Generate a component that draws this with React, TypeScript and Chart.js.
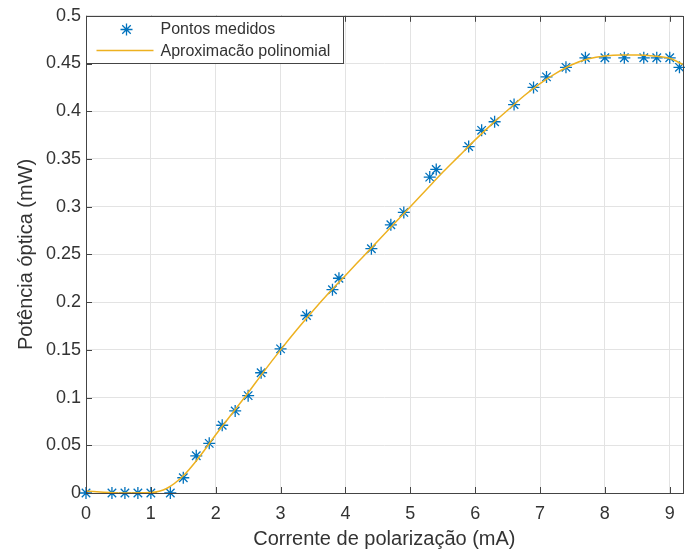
import React, { useEffect, useRef } from "react";
import { Chart, registerables } from "chart.js";

Chart.register(...registerables);

const measuredX = [0, 0.4, 0.6, 0.8, 1.0, 1.3, 1.5, 1.7, 1.9, 2.1, 2.3, 2.5, 2.7, 3.0, 3.4, 3.8, 3.9, 4.4, 4.7, 4.9, 5.3, 5.4, 5.9, 6.1, 6.3, 6.6, 6.9, 7.1, 7.4, 7.7, 8.0, 8.3, 8.6, 8.8, 9.0, 9.15];
const measuredY = [0, 0, 0, 0, 0, 0, 0.016, 0.039, 0.052, 0.071, 0.086, 0.102, 0.126, 0.151, 0.186, 0.213, 0.225, 0.256, 0.281, 0.294, 0.331, 0.339, 0.363, 0.380, 0.389, 0.407, 0.425, 0.436, 0.446, 0.456, 0.456, 0.456, 0.456, 0.456, 0.456, 0.446];

const fitX = [0, 0.5, 1.0, 1.25, 1.5, 1.75, 2.0, 2.25, 2.5, 2.75, 3.0, 3.25, 3.5, 3.75, 4.0, 4.25, 4.5, 4.75, 5.0, 5.25, 5.5, 5.75, 6.0, 6.25, 6.5, 6.75, 7.0, 7.25, 7.5, 7.75, 8.0, 8.25, 8.5, 8.75, 9.0, 9.2];
const fitY = [0.002, 0.0, 0.0005, 0.005, 0.018, 0.038, 0.061, 0.083, 0.105, 0.128, 0.150, 0.171, 0.191, 0.210, 0.228, 0.246, 0.264, 0.282, 0.300, 0.318, 0.336, 0.353, 0.370, 0.386, 0.401, 0.416, 0.429, 0.440, 0.449, 0.455, 0.458, 0.459, 0.459, 0.458, 0.4555, 0.449];

const xTicks = [0, 1, 2, 3, 4, 5, 6, 7, 8, 9];
const yTicks = [0, 0.05, 0.1, 0.15, 0.2, 0.25, 0.3, 0.35, 0.4, 0.45, 0.5];

const legendLabels = ["Pontos medidos", "Aproximacão polinomial"];
const xTitle = "Corrente de polarização (mA)";
const yTitle = "Potência óptica (mW)";

const BLUE = "#0072BD";
const GOLD = "#EDB120";
const AXIS = "#444444";
const TEXT = "#333333";
const FONT = "'Liberation Sans', Arial, Helvetica, sans-serif";

function drawStar(ctx: CanvasRenderingContext2D, x: number, y: number, r: number) {
  ctx.beginPath();
  for (let i = 0; i < 4; i++) {
    const a = (i * Math.PI) / 4;
    ctx.moveTo(x + Math.cos(a) * r, y + Math.sin(a) * r);
    ctx.lineTo(x - Math.cos(a) * r, y - Math.sin(a) * r);
  }
  ctx.stroke();
}

const decorPlugin = {
  id: "matlabDecor",
  afterDraw(chart: any) {
    const { ctx, chartArea, scales } = chart;
    const { left, top, right, bottom } = chartArea;
    ctx.save();
    ctx.strokeStyle = AXIS;
    ctx.lineWidth = 1;
    ctx.beginPath();
    xTicks.forEach((v) => {
      const px = Math.round(scales.x.getPixelForValue(v)) + 0.5;
      ctx.moveTo(px, bottom);
      ctx.lineTo(px, bottom - 6);
      ctx.moveTo(px, top);
      ctx.lineTo(px, top + 6);
    });
    yTicks.forEach((v) => {
      const py = Math.round(scales.y.getPixelForValue(v)) + 0.5;
      ctx.moveTo(left, py);
      ctx.lineTo(left + 6, py);
    });
    ctx.stroke();
    ctx.strokeRect(Math.round(left) + 0.5, Math.round(top) + 0.5, Math.round(right - left), Math.round(bottom - top));

    const lx = Math.round(left) + 0.5;
    const ly = Math.round(top) + 0.5;
    const lw = 257;
    const lh = 47;
    ctx.fillStyle = "#ffffff";
    ctx.fillRect(lx, ly, lw, lh);
    ctx.strokeStyle = AXIS;
    ctx.strokeRect(lx, ly, lw, lh);

    ctx.strokeStyle = BLUE;
    ctx.lineWidth = 1.3;
    drawStar(ctx, lx + 40, ly + 13, 6);

    ctx.strokeStyle = GOLD;
    ctx.lineWidth = 1.5;
    ctx.beginPath();
    ctx.moveTo(lx + 10, ly + 34);
    ctx.lineTo(lx + 67, ly + 34);
    ctx.stroke();

    ctx.fillStyle = TEXT;
    ctx.font = `16px ${FONT}`;
    ctx.textBaseline = "middle";
    ctx.textAlign = "left";
    ctx.fillText(legendLabels[0], lx + 74, ly + 13);
    ctx.fillText(legendLabels[1], lx + 74, ly + 35);
    ctx.restore();
  },
};

export default function App() {
  const ref = useRef<HTMLCanvasElement | null>(null);

  useEffect(() => {
    const canvas = ref.current;
    if (!canvas) return;
    const chart = new Chart(canvas, {
      type: "scatter",
      data: {
        datasets: [
          {
            label: legendLabels[0],
            data: measuredX.map((x, i) => ({ x, y: measuredY[i] })),
            pointStyle: "star",
            pointRadius: 6,
            pointBorderColor: BLUE,
            pointBackgroundColor: BLUE,
            pointBorderWidth: 1.3,
            showLine: false,
            clip: false,
            order: 1,
          } as any,
          {
            label: legendLabels[1],
            data: fitX.map((x, i) => ({ x, y: fitY[i] })),
            showLine: true,
            borderColor: GOLD,
            borderWidth: 1.5,
            pointRadius: 0,
            cubicInterpolationMode: "monotone",
            clip: false,
            order: 0,
          } as any,
        ],
      },
      options: {
        animation: false,
        responsive: false,
        devicePixelRatio: 1,
        events: [],
        layout: { padding: { top: 15, right: 3, left: 0, bottom: 0 } },
        plugins: {
          legend: { display: false },
          tooltip: { enabled: false },
        },
        scales: {
          x: {
            type: "linear",
            min: 0,
            max: 9.2,
            border: { display: false },
            grid: { color: "#e3e3e3", drawTicks: false },
            ticks: {
              stepSize: 1,
              includeBounds: false,
              padding: 10,
              color: TEXT,
              font: { family: FONT, size: 18 },
              maxRotation: 0,
            },
            title: {
              display: true,
              text: xTitle,
              color: TEXT,
              font: { family: FONT, size: 20, lineHeight: 1 },
              padding: { top: 0, bottom: 0 },
            },
            afterFit: (scale: any) => {
              scale.height = 56;
            },
          },
          y: {
            type: "linear",
            min: 0,
            max: 0.5,
            border: { display: false },
            grid: { color: "#e3e3e3", drawTicks: false },
            ticks: {
              stepSize: 0.05,
              padding: 5,
              color: TEXT,
              font: { family: FONT, size: 18 },
              callback: (v: any) => String(parseFloat(Number(v).toFixed(2))),
            },
            title: {
              display: true,
              text: yTitle,
              color: TEXT,
              font: { family: FONT, size: 20, lineHeight: 1 },
              padding: { top: 16, bottom: 0 },
            },
            afterFit: (scale: any) => {
              scale.width = 86;
            },
          },
        },
      } as any,
      plugins: [decorPlugin],
    });
    return () => chart.destroy();
  }, []);

  return (
    <div
      style={{
        position: "fixed",
        left: 0,
        top: 0,
        width: 685,
        height: 549,
        overflow: "hidden",
        background: "#ffffff",
      }}
    >
      <canvas ref={ref} width={690} height={549} style={{ display: "block", width: 690, height: 549 }} />
    </div>
  );
}
